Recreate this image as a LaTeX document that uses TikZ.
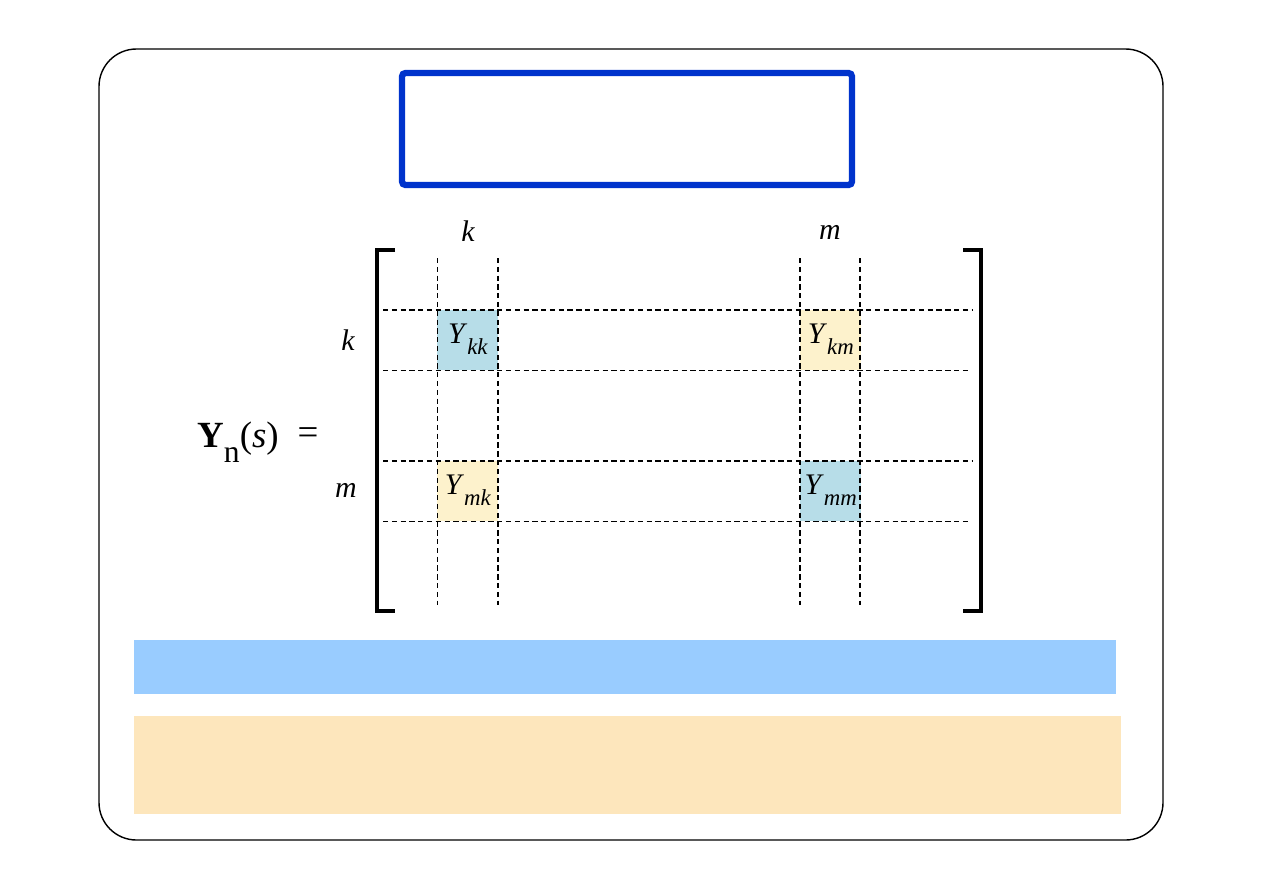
\documentclass[tikz,border=0pt]{standalone}
\usepackage{fontspec}
\setmainfont{Liberation Serif}
\usepackage{xcolor}
\definecolor{titleblue}{HTML}{0033CC}
\definecolor{cellblue}{HTML}{B7DDE8}
\definecolor{cellyellow}{HTML}{FDF2CC}
\definecolor{barblue}{HTML}{99CCFF}
\definecolor{barorange}{HTML}{FDE6BC}
\newcommand{\entry}[1]{\textit{Y}\raisebox{-0.8ex}{\fontsize{13}{14}\selectfont\itshape #1}}

\begin{document}
\begin{tikzpicture}[
  x=0.02cm, y=-0.02cm,
  every node/.style = {font=\fontsize{17}{20}\selectfont},
  idxlabel/.style = {font=\fontsize{17}{20}\selectfont\itshape},
  cellbox/.style = {minimum width=1.22cm, minimum height=1.2cm, inner sep=0pt, anchor=north west},
  gridthick/.style = {densely dashed, line width=1.1pt},
  gridthin/.style = {densely dashed, line width=0.5pt},
  bracket/.style = {line width=2pt}
]
  \useasboundingbox (0,0) rectangle (1263,893);

  % outer frame and title box
  \draw[line width=0.8pt, rounded corners=0.75cm] (99,49) rectangle (1163,840);
  \draw[titleblue, line width=3.6pt, rounded corners=2pt] (402,73) rectangle (852,185);

  % highlighted entries
  \node[cellbox, fill=cellblue]   (ykk) at (437,310) {};
  \node[cellbox, fill=cellyellow] (ykm) at (800,310) {};
  \node[cellbox, fill=cellyellow] (ymk) at (437,461) {};
  \node[cellbox, fill=cellblue]   (ymm) at (800,461) {};
  \node at ([yshift=0.02cm]ykk.center) {\entry{kk}};
  \node at ([yshift=0.02cm]ykm.center) {\entry{km}};
  \node at ([yshift=0.02cm]ymk.center) {\entry{mk}};
  \node at ([yshift=0.02cm]ymm.center) {\entry{mm}};

  % dashed grid
  \draw[gridthin]  (437,258) -- (437,605);
  \draw[gridthick] (498,258) -- (498,605);
  \draw[gridthick] (800,258) -- (800,605);
  \draw[gridthick] (860,258) -- (860,605);
  \draw[gridthick] (383,310) -- (973,310);
  \draw[gridthin]  (383,370) -- (969,370);
  \draw[gridthick] (383,461) -- (973,461);
  \draw[gridthin]  (383,521) -- (969,521);

  % brackets
  \draw[bracket] (395,250) -- (377,250) -- (377,611) -- (395,611);
  \draw[bracket] (963,250) -- (981,250) -- (981,611) -- (963,611);

  % row and column indices
  \node[idxlabel] (colk) at (468,231) {k};
  \node[idxlabel] (colm) at (830,232) {m};
  \node[idxlabel] (rowk) at (348,340) {k};
  \node[idxlabel] (rowm) at (346,490) {m};

  \node[font=\fontsize{21}{24}\selectfont] (lhs) at (238,442)
    {\textbf{Y}\raisebox{-0.9ex}{\fontsize{18}{20}\selectfont n}(\textit{s})};
  \node[font=\fontsize{21}{24}\selectfont] (eq) at (308,436) {=};

  % bottom bars
  \fill[barblue]   (134,640) rectangle (1116,694);
  \fill[barorange] (134,716) rectangle (1121,814);
\end{tikzpicture}
\end{document}
